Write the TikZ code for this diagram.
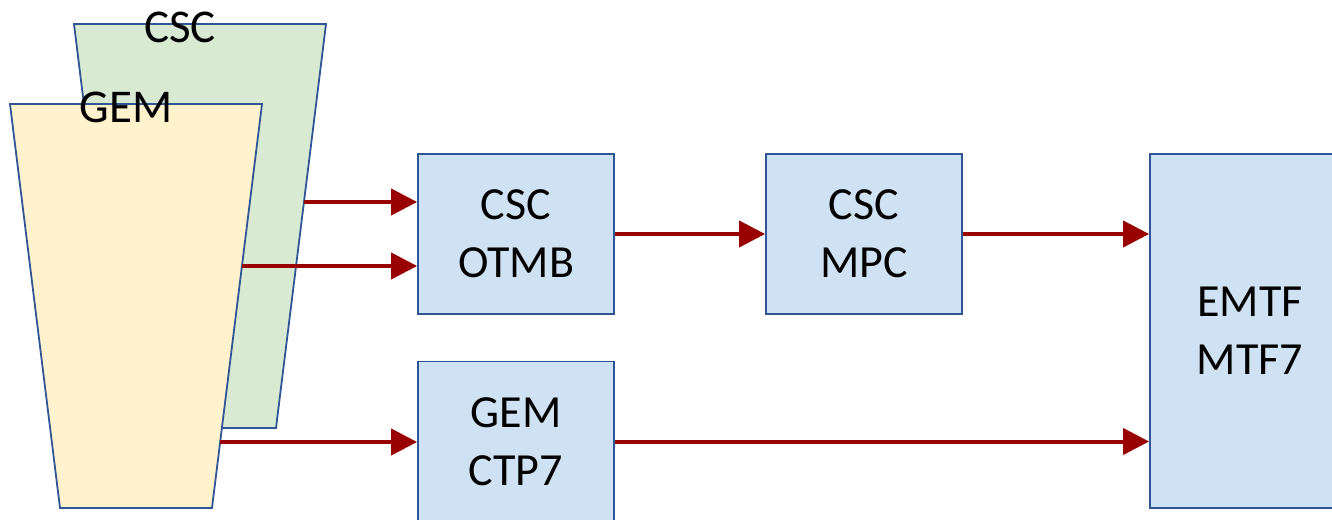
\documentclass[tikz,border=0pt]{standalone}
\usepackage{fontspec}
\setmainfont{Carlito}
\usetikzlibrary{arrows.meta}
\definecolor{boxfill}{RGB}{207,226,243}
\definecolor{boxline}{RGB}{47,85,151}
\definecolor{cscfill}{RGB}{217,234,211}
\definecolor{gemfill}{RGB}{255,242,204}
\definecolor{sig}{RGB}{153,0,0}
\tikzset{
  board/.style={draw=boxline, fill=boxfill, line width=1.8pt, inner sep=0pt,
    align=center, font=\fontsize{46}{58}\selectfont},
  chamber/.style={draw=boxline, line width=1.8pt, line join=miter},
  chlabel/.style={font=\fontsize{47}{56}\selectfont, anchor=base, inner sep=0pt},
  link/.style={draw=sig, line width=4pt,
    -{Triangle[length=26pt,width=26pt]}, shorten >=0pt},
}
\begin{document}
\begin{tikzpicture}[x=1pt,y=-1pt]
  \useasboundingbox (0,0) rectangle (1332,519);
  \clip (0,0) rectangle (1332,519);

  % detector chambers
  \draw[chamber, fill=cscfill] (74,24) -- (326,24) -- (276,428) -- (124,428) -- cycle;
  \draw[chamber, fill=gemfill] (10,104) -- (262,104) -- (212,508) -- (60,508) -- cycle;
  \node[chlabel] (csclbl) at (180,42) {CSC};
  \node[chlabel] (gemlbl) at (126,122) {GEM};

  % signal exit points on the chamber edges
  \coordinate (cscout) at (304,202);
  \coordinate (gemoutA) at (242,266);
  \coordinate (gemoutB) at (220,442);

  % electronics boards
  \node[board, minimum width=196pt, minimum height=160pt] (otmb) at (516,234) {CSC\\OTMB};
  \node[board, minimum width=196pt, minimum height=160pt] (mpc) at (864,234) {CSC\\MPC};
  \node[board, minimum width=196pt, minimum height=160pt] (ctp7) at (516,441.5) {GEM\\CTP7};
  \node[board, minimum width=200pt, minimum height=354pt] (emtf) at (1250,331) {EMTF\\MTF7};

  % signal paths
  \draw[link] (cscout) -- (cscout -| otmb.west);
  \draw[link] (gemoutA) -- (gemoutA -| otmb.west);
  \draw[link] (gemoutB) -- (gemoutB -| ctp7.west);
  \draw[link] (otmb.east) -- (mpc.west);
  \draw[link] (mpc.east) -- (mpc.east -| emtf.west);
  \draw[link] (ctp7.east) -- (ctp7.east -| emtf.west);
\end{tikzpicture}
\end{document}
